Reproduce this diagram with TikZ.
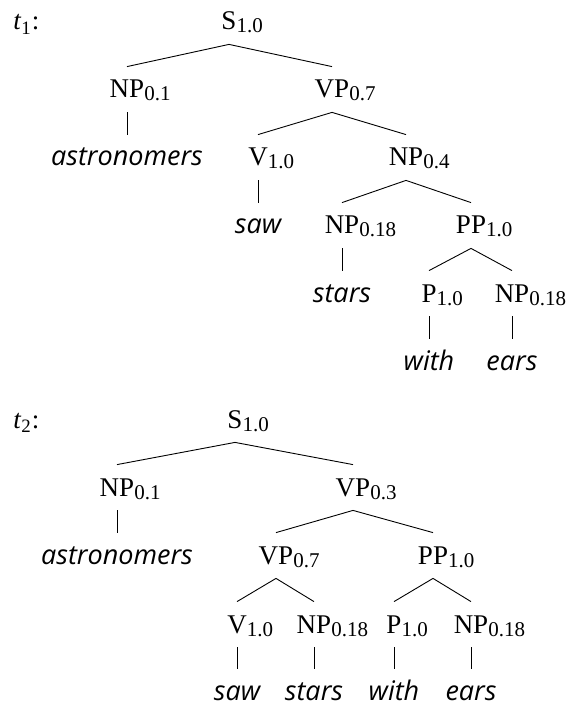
\documentclass[tikz,border=0pt]{standalone}
\usepackage{fontspec}
\setmainfont{Liberation Serif}
\newfontfamily\wordfont{Open Sans}
\newcommand{\cat}[2]{#1\rlap{\raisebox{-1.5pt}{\fontsize{10.5}{11}\selectfont #2}}}
\newcommand{\wrd}[1]{{\wordfont\itshape #1}}
\tikzset{
  lab/.style={anchor=base, inner xsep=0pt, inner ysep=3pt, text height=12.5pt, text depth=4pt},
  ramo/.style={line width=0.45pt}
}
\begin{document}
\begin{tikzpicture}[x=0.5pt, y=-0.5pt, font=\fontsize{13.5}{15}\selectfont]
  \useasboundingbox (0,0) rectangle (569,705);
  % Albero t1
  \node[anchor=base west, inner sep=0pt] (tuno) at (13,30) {\textit{t}\textsubscript{1}:};
  \node[lab] (s1) at (229,30) {\cat{S}{1.0}};
  \node[lab] (np1) at (127,98) {\cat{NP}{0.1}};
  \node[lab] (vp1) at (332,98) {\cat{VP}{0.7}};
  \node[lab] (astr1) at (127,166) {\wrd{astronomers}};
  \node[lab] (v1) at (258,166) {\cat{V}{1.0}};
  \node[lab] (npb1) at (406,166) {\cat{NP}{0.4}};
  \node[lab] (saw1) at (258,234) {\wrd{saw}};
  \node[lab] (npc1) at (342,234) {\cat{NP}{0.18}};
  \node[lab] (pp1) at (471,234) {\cat{PP}{1.0}};
  \node[lab] (stars1) at (342,302) {\wrd{stars}};
  \node[lab] (p1) at (429,302) {\cat{P}{1.0}};
  \node[lab] (npd1) at (512,302) {\cat{NP}{0.18}};
  \node[lab] (with1) at (429,370) {\wrd{with}};
  \node[lab] (ears1) at (512,370) {\wrd{ears}};
  % Rami di t1
  \draw[ramo] (np1.north) -- (s1.south) -- (vp1.north);
  \draw[ramo] (np1.south) -- (astr1.north);
  \draw[ramo] (v1.north) -- (vp1.south) -- (npb1.north);
  \draw[ramo] (v1.south) -- (saw1.north);
  \draw[ramo] (npc1.north) -- (npb1.south) -- (pp1.north);
  \draw[ramo] (npc1.south) -- (stars1.north);
  \draw[ramo] (p1.north) -- (pp1.south) -- (npd1.north);
  \draw[ramo] (p1.south) -- (with1.north);
  \draw[ramo] (npd1.south) -- (ears1.north);
  % Albero t2
  \node[anchor=base west, inner sep=0pt] (tdue) at (13,428) {\textit{t}\textsubscript{2}:};
  \node[lab] (s2) at (235,428) {\cat{S}{1.0}};
  \node[lab] (np2) at (117,496) {\cat{NP}{0.1}};
  \node[lab] (vp2) at (353,496) {\cat{VP}{0.3}};
  \node[lab] (astr2) at (117,564) {\wrd{astronomers}};
  \node[lab] (vpb2) at (276,564) {\cat{VP}{0.7}};
  \node[lab] (pp2) at (433,564) {\cat{PP}{1.0}};
  \node[lab] (v2) at (237,633) {\cat{V}{1.0}};
  \node[lab] (npc2) at (314,633) {\cat{NP}{0.18}};
  \node[lab] (p2) at (394,633) {\cat{P}{1.0}};
  \node[lab] (npd2) at (471,633) {\cat{NP}{0.18}};
  \node[lab] (saw2) at (237,700) {\wrd{saw}};
  \node[lab] (stars2) at (314,700) {\wrd{stars}};
  \node[lab] (with2) at (394,700) {\wrd{with}};
  \node[lab] (ears2) at (471,700) {\wrd{ears}};
  % Rami di t2
  \draw[ramo] (np2.north) -- (s2.south) -- (vp2.north);
  \draw[ramo] (np2.south) -- (astr2.north);
  \draw[ramo] (vpb2.north) -- (vp2.south) -- (pp2.north);
  \draw[ramo] (v2.north) -- (vpb2.south) -- (npc2.north);
  \draw[ramo] (p2.north) -- (pp2.south) -- (npd2.north);
  \draw[ramo] (v2.south) -- (saw2.north);
  \draw[ramo] (npc2.south) -- (stars2.north);
  \draw[ramo] (p2.south) -- (with2.north);
  \draw[ramo] (npd2.south) -- (ears2.north);
\end{tikzpicture}
\end{document}
